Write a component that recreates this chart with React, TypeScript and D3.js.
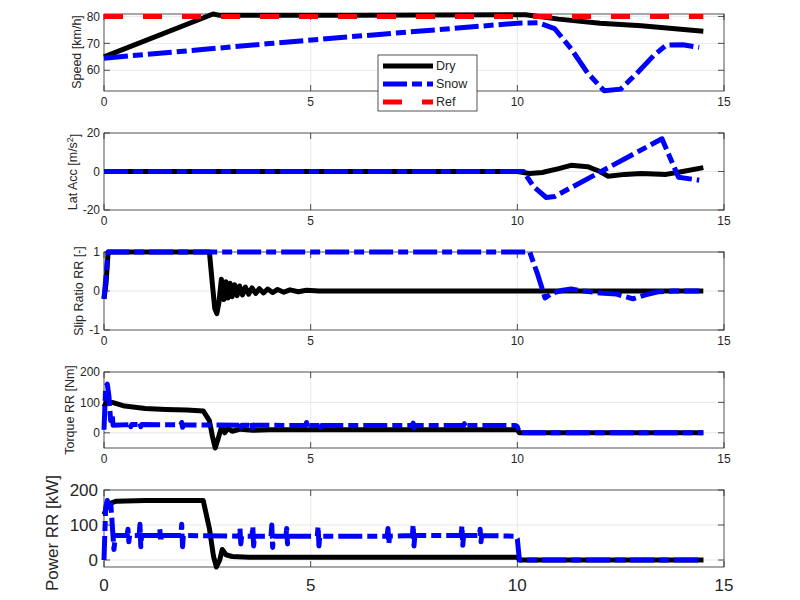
import * as d3 from "d3";
import React, { RefObject, useEffect, useRef } from "react";

// shared time axis
const xDomain: [number, number] = [0, 15];
const xTicks = [0, 5, 10, 15];

// Speed [km/h]
const speedDryTime = [0, 2.64, 2.8, 6, 10.2, 11, 12, 13, 14.5];
const speedDry = [65, 81, 80.4, 80.4, 80.6, 79, 77.5, 76.5, 74.5];
const speedSnowTime = [0, 2, 4, 6, 8, 10, 10.5, 10.9, 11.3, 11.7, 12.1, 12.5, 12.9, 13.3, 13.6, 14, 14.4];
const speedSnow = [64.5, 67.2, 69.9, 72.5, 75, 77.5, 77.7, 75.5, 68, 59, 52.4, 53, 59, 65.5, 69.3, 69.5, 68.5];
const speedRefTime = [0, 14.5];
const speedRef = [80, 80];

// Lateral acceleration [m/s^2]
const latDryTime = [0, 10, 10.3, 10.6, 11, 11.3, 11.7, 12, 12.2, 12.6, 13, 13.6, 14, 14.5];
const latDry = [0, 0, -1, -0.5, 1.5, 3.2, 2.5, 0, -2.5, -1.5, -1, -1.5, 0, 2];
const latSnowTime = [0, 10.15, 10.4, 10.7, 10.9, 13.5, 13.9, 14.4];
const latSnow = [0, 0, -8, -13.5, -13, 17, -3, -4.5];

// Slip ratio RR [-]
const slipDryTime = [0, 0.05, 0.1, 2.55, 2.62, 2.68, 2.73, 2.78, 2.84, 2.9, 2.95, 3.0, 3.05, 3.1, 3.16, 3.22, 3.28, 3.35, 3.42, 3.5, 3.58, 3.67, 3.76, 3.86, 3.96, 4.08, 4.2, 4.35, 4.5, 4.7, 4.9, 5.2, 14.5];
const slipDry = [-0.2, 0.2, 1, 1, 0.2, -0.45, -0.58, -0.3, 0.3, -0.22, 0.24, -0.18, 0.2, -0.15, 0.16, -0.12, 0.13, -0.1, 0.1, -0.08, 0.08, -0.06, 0.06, -0.05, 0.05, -0.04, 0.04, -0.03, 0.03, -0.02, 0.02, 0, 0];
const slipSnowTime = [0, 0.1, 10.3, 10.5, 10.67, 10.85, 11.1, 11.3, 11.6, 12, 12.4, 12.8, 13.1, 13.4, 13.8, 14.4];
const slipSnow = [-0.2, 1, 1, 0.4, -0.18, -0.05, 0.02, 0.05, 0, -0.05, -0.08, -0.2, -0.1, -0.02, 0, 0];

// Torque RR [Nm]
const torqueDryTime = [0, 0.05, 0.2, 0.5, 1, 1.5, 2, 2.4, 2.55, 2.62, 2.69, 2.76, 2.85, 2.92, 3.0, 3.1, 3.3, 3.6, 4, 10, 10.05, 14.5];
const torqueDry = [85, 100, 100, 88, 80, 77, 75, 72, 40, -10, -55, -20, 22, 0, 15, 5, 12, 8, 10, 10, 0, 0];
const torqueSnowTime = [0, 0.04, 0.08, 0.12, 0.16, 0.2, 0.22, 0.61, 0.63, 0.65, 0.67, 0.85, 0.87, 0.89, 0.91, 1.86, 1.88, 1.9, 1.92, 3.27, 3.29, 3.31, 3.33, 3.55, 3.57, 3.59, 3.61, 4.88, 4.9, 4.92, 4.94, 5.21, 5.23, 5.25, 5.27, 7.46, 7.48, 7.5, 7.52, 8.7, 8.72, 8.74, 8.76, 9.95, 10, 10.05, 14.5];
const torqueSnow = [10, 150, 160, 120, 40, 55, 25, 27, 33, 20, 27, 27, 34, 20, 27, 26, 34, 18, 26, 25, 32, 18, 25, 25, 34, 16, 25, 24, 34, 16, 24, 24, 30, 18, 24, 24, 32, 16, 24, 24, 30, 18, 24, 24, 20, 0, 0];

// Power RR [kW]
const powerDryTime = [0, 0.05, 0.1, 0.3, 1, 2, 2.4, 2.55, 2.65, 2.72, 2.8, 2.86, 2.95, 3.1, 3.5, 10, 10.05, 14.5];
const powerDry = [130, 145, 160, 168, 170, 170, 170, 90, 10, -25, 0, 30, 15, 10, 8, 8, 0, 0];
const powerSnowTime = [0, 0.04, 0.08, 0.12, 0.16, 0.2, 0.24, 0.28, 0.56, 0.58, 0.6, 0.62, 0.85, 0.87, 0.89, 0.91, 1.33, 1.35, 1.37, 1.39, 1.86, 1.88, 1.9, 1.92, 3.27, 3.29, 3.31, 3.33, 3.58, 3.6, 3.62, 3.64, 4.04, 4.06, 4.08, 4.1, 4.4, 4.42, 4.44, 4.46, 5.16, 5.18, 5.2, 5.22, 6.85, 6.87, 6.89, 6.91, 7.46, 7.48, 7.5, 7.52, 8.64, 8.66, 8.68, 8.7, 9.08, 9.1, 9.12, 9.14, 9.95, 10.0, 10.05, 14.5];
const powerSnow = [0, 150, 170, 155, 170, 100, 30, 70, 70, 88, 52, 70, 70, 102, 38, 70, 70, 88, 52, 70, 70, 102, 38, 70, 68, 90, 46, 68, 68, 96, 40, 68, 68, 100, 36, 68, 68, 90, 46, 68, 68, 96, 40, 68, 68, 90, 46, 68, 70, 100, 40, 70, 70, 98, 42, 70, 70, 88, 52, 70, 68, 60, 0, 0];

const legendNames = ["Dry", "Snow", "Ref"];

type Series = { t: number[]; v: number[]; kind: number };

const styles = [
  { color: "#000000", dash: "none" },
  { color: "#0000ff", dash: "24,5,10,5" },
  { color: "#ff0000", dash: "19,20" },
];

const FONT = "'Liberation Sans', Arial, Helvetica, sans-serif";
const AXIS = "#262626";

const App = () => {
  const d3Ref: RefObject<HTMLDivElement> = useRef(null);

  const drawChart = () => {
    const root = d3.select(d3Ref.current);
    root.selectAll("*").remove();
    const svg = root
      .append("svg")
      .attr("width", 800)
      .attr("height", 600)
      .style("display", "block")
      .style("background", "#ffffff");

    const x = d3.scaleLinear().domain(xDomain).range([104, 724]);

    const panels = [
      { top: 14, bottom: 91, domain: [52.3, 80.9], ticks: [60, 70, 80], label: "Speed [km/h]", lx: 77, ly: 52, fs: 12, lfs: 12.5, series: [
        { t: speedDryTime, v: speedDry, kind: 0 },
        { t: speedSnowTime, v: speedSnow, kind: 1 },
        { t: speedRefTime, v: speedRef, kind: 2 },
      ] },
      { top: 133, bottom: 210, domain: [-20, 20], ticks: [-20, 0, 20], label: "Lat Acc [m/s", sup: "2", lx: 73, ly: 172, fs: 12, lfs: 12.5, series: [
        { t: latDryTime, v: latDry, kind: 0 },
        { t: latSnowTime, v: latSnow, kind: 1 },
      ] },
      { top: 252, bottom: 330, domain: [-1, 1], ticks: [-1, 0, 1], label: "Slip Ratio RR [-]", lx: 79, ly: 291, fs: 12, lfs: 12.5, series: [
        { t: slipDryTime, v: slipDry, kind: 0 },
        { t: slipSnowTime, v: slipSnow, kind: 1 },
      ] },
      { top: 372, bottom: 448, domain: [-50, 200], ticks: [0, 100, 200], label: "Torque RR [Nm]", lx: 70, ly: 410, fs: 12, lfs: 12.5, series: [
        { t: torqueDryTime, v: torqueDry, kind: 0 },
        { t: torqueSnowTime, v: torqueSnow, kind: 1 },
      ] },
      { top: 490, bottom: 567, domain: [-20, 200], ticks: [0, 100, 200], label: "Power RR [kW]", lx: 52, ly: 533, fs: 17, lfs: 17, series: [
        { t: powerDryTime, v: powerDry, kind: 0 },
        { t: powerSnowTime, v: powerSnow, kind: 1 },
      ] },
    ];

    panels.forEach((p, i) => {
      const y = d3.scaleLinear().domain(p.domain).range([p.bottom, p.top]);
      const g = svg.append("g");
      const [x0, x1] = x.range();

      // grid
      g.selectAll("line.gx")
        .data(xTicks.slice(1, -1))
        .enter()
        .append("line")
        .attr("x1", (d) => x(d))
        .attr("x2", (d) => x(d))
        .attr("y1", p.top)
        .attr("y2", p.bottom)
        .attr("stroke", "#dedede")
        .attr("stroke-width", 0.7);
      g.selectAll("line.gy")
        .data(p.ticks.filter((d) => y(d) > p.top + 1 && y(d) < p.bottom - 1))
        .enter()
        .append("line")
        .attr("x1", x0)
        .attr("x2", x1)
        .attr("y1", (d) => y(d))
        .attr("y2", (d) => y(d))
        .attr("stroke", "#dedede")
        .attr("stroke-width", 0.7);

      // frame + ticks
      g.append("rect")
        .attr("x", x0)
        .attr("y", p.top)
        .attr("width", x1 - x0)
        .attr("height", p.bottom - p.top)
        .attr("fill", "none")
        .attr("stroke", AXIS)
        .attr("stroke-width", 0.8);
      xTicks.forEach((d) => {
        g.append("line").attr("x1", x(d)).attr("x2", x(d)).attr("y1", p.bottom).attr("y2", p.bottom - 6).attr("stroke", AXIS).attr("stroke-width", 0.8);
        g.append("line").attr("x1", x(d)).attr("x2", x(d)).attr("y1", p.top).attr("y2", p.top + 6).attr("stroke", AXIS).attr("stroke-width", 0.8);
      });
      p.ticks.forEach((d) => {
        g.append("line").attr("x1", x0).attr("x2", x0 + 6).attr("y1", y(d)).attr("y2", y(d)).attr("stroke", AXIS).attr("stroke-width", 0.8);
        g.append("line").attr("x1", x1).attr("x2", x1 - 6).attr("y1", y(d)).attr("y2", y(d)).attr("stroke", AXIS).attr("stroke-width", 0.8);
      });

      // data
      const clipId = `clip${i}`;
      svg.append("clipPath")
        .attr("id", clipId)
        .append("rect")
        .attr("x", x0 - 3)
        .attr("y", p.top - 3)
        .attr("width", x1 - x0 + 6)
        .attr("height", p.bottom - p.top + 6);
      const line = d3
        .line<[number, number]>()
        .x((d) => x(d[0]))
        .y((d) => y(Math.max(p.domain[0], Math.min(p.domain[1], d[1]))));
      const dg = g.append("g").attr("clip-path", `url(#${clipId})`);
      (p.series as Series[]).forEach((s) => {
        const pts = s.t.map((t, k) => [t, s.v[k]] as [number, number]);
        dg.append("path")
          .attr("d", line(pts) as string)
          .attr("fill", "none")
          .attr("stroke", styles[s.kind].color)
          .attr("stroke-width", 5)
          .attr("stroke-dasharray", styles[s.kind].dash)
          .attr("stroke-linejoin", "round");
      });

      // tick labels
      const tickGap = p.fs > 14 ? 24 : 15;
      g.selectAll("text.xt")
        .data(xTicks)
        .enter()
        .append("text")
        .attr("x", (d) => x(d))
        .attr("y", p.bottom + tickGap)
        .attr("text-anchor", "middle")
        .attr("font-family", FONT)
        .attr("font-size", p.fs)
        .attr("fill", AXIS)
        .text((d) => String(d));
      g.selectAll("text.yt")
        .data(p.ticks)
        .enter()
        .append("text")
        .attr("x", x0 - (p.fs > 14 ? 6 : 4))
        .attr("y", (d) => y(d))
        .attr("dy", "0.35em")
        .attr("text-anchor", "end")
        .attr("font-family", FONT)
        .attr("font-size", p.fs)
        .attr("fill", AXIS)
        .text((d) => String(d));

      // y label
      const lab = g.append("text")
        .attr("transform", `translate(${p.lx},${p.ly}) rotate(-90)`)
        .attr("text-anchor", "middle")
        .attr("dy", "0.35em")
        .attr("font-family", FONT)
        .attr("font-size", p.lfs)
        .attr("fill", AXIS);
      lab.append("tspan").text(p.label);
      if ((p as any).sup) {
        lab.append("tspan").attr("dy", "-0.45em").attr("font-size", p.lfs * 0.7).text((p as any).sup);
        lab.append("tspan").attr("dy", "0.45em").text("]");
      }

      // legend in the first panel
      if (i === 0) {
        const lg = g.append("g");
        lg.append("rect")
          .attr("x", 378)
          .attr("y", 55)
          .attr("width", 99)
          .attr("height", 56)
          .attr("fill", "#ffffff")
          .attr("stroke", AXIS)
          .attr("stroke-width", 0.8);
        legendNames.forEach((name, k) => {
          const ly = 66 + k * 18;
          lg.append("line")
            .attr("x1", 383)
            .attr("x2", 433)
            .attr("y1", ly)
            .attr("y2", ly)
            .attr("stroke", styles[k].color)
            .attr("stroke-width", 5)
            .attr("stroke-dasharray", styles[k].dash);
          lg.append("text")
            .attr("x", 436)
            .attr("y", ly)
            .attr("dy", "0.35em")
            .attr("font-family", FONT)
            .attr("font-size", 12.5)
            .attr("fill", AXIS)
            .text(name);
        });
      }
    });
  };

  useEffect(() => {
    drawChart();
  }, [d3Ref]);

  return <div ref={d3Ref} style={{ position: "absolute", left: 0, top: 0 }} />;
};

export default App;
